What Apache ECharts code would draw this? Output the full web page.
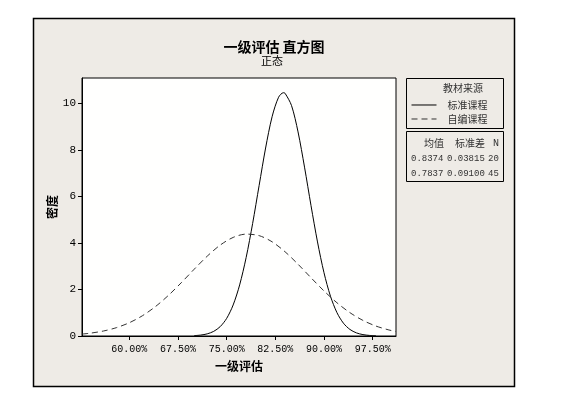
<!DOCTYPE html>
<html><head><meta charset="utf-8">
<script src="https://cdn.jsdelivr.net/npm/echarts@6/dist/echarts.min.js"></script>
<style>html,body{margin:0;padding:0;background:#fff}#c{width:565px;height:396px}</style>
</head><body><div id="c"></div>
<script>
const titleText = '一级评估 直方图';
const subtitleText = '正态';
const xAxisName = '一级评估';
const yAxisName = '密度';
const seriesNames = ['标准课程', '自编课程'];
const legendTitle = '教材来源';
const statHeaders = ['均值', '标准差', 'N'];
const statMeans = ['0.8374', '0.7837'];
const statSds = ['0.03815', '0.09100'];
const statNs = ['20', '45'];
const xTicks = [60, 67.5, 75, 82.5, 90, 97.5];
const yTicks = [0, 2, 4, 6, 8, 10];

const solidX = [70,71,72,73,74,75,76,77,78,79,80,81,82,83,83.74,84,85,86,87,88,89,90,91,92,93,94,95,96,97,98];
const solidY = [0.016,0.040,0.092,0.199,0.402,0.758,1.335,2.196,3.371,4.832,6.468,8.080,9.424,10.262,10.457,10.433,9.902,8.773,7.258,5.606,4.043,2.721,1.710,1.003,0.550,0.281,0.134,0.060,0.025,0.010];
const dashX = [52.7,54,56,58,60,62,64,66,68,70,72,74,76,78,80,82,84,86,88,90,92,94,96,98,100,101.1];
const dashY = [0.082,0.122,0.214,0.358,0.571,0.869,1.260,1.740,2.290,2.872,3.431,3.907,4.238,4.380,4.314,4.049,3.620,3.085,2.504,1.937,1.428,1.003,0.671,0.428,0.260,0.194];

const CJK = "'Noto Sans CJK SC', sans-serif";
const MONO = "'Liberation Mono', monospace";
const BG = '#EEEBE6';

const chart = echarts.init(document.getElementById('c'), null, {renderer: 'canvas'});

const pairs = (xs, ys) => xs.map((x, i) => [x, ys[i]]);

const statTexts = [];
const colsX = [434, 470, 496];
statHeaders.forEach((h, i) => statTexts.push({
  type: 'text', x: colsX[i], y: 143,
  style: {text: h, fontSize: 10, fontFamily: i === 2 ? MONO : CJK, fill: '#333', align: 'center', verticalAlign: 'middle'}
}));
statMeans.forEach((m, r) => {
  const y = 158.5 + r * 15;
  statTexts.push({type: 'text', x: 411, y, style: {text: m, fontSize: 9, fontFamily: MONO, fill: '#333', align: 'left', verticalAlign: 'middle'}});
  statTexts.push({type: 'text', x: 447, y, style: {text: statSds[r], fontSize: 9, fontFamily: MONO, fill: '#333', align: 'left', verticalAlign: 'middle'}});
  statTexts.push({type: 'text', x: 488, y, style: {text: statNs[r], fontSize: 9, fontFamily: MONO, fill: '#333', align: 'left', verticalAlign: 'middle'}});
});

chart.setOption({
  animation: false,
  backgroundColor: 'transparent',
  grid: {left: 82, top: 78, width: 314, height: 258, show: true, backgroundColor: '#FFFFFE', borderColor: '#000', borderWidth: 1, containLabel: false},
  legend: {
    data: seriesNames, orient: 'vertical', left: 406, top: 95, itemWidth: 25, itemHeight: 10, itemGap: 4,
    selectedMode: false,
    itemStyle: {opacity: 0},
    lineStyle: {width: 1},
    textStyle: {fontSize: 10, fontFamily: CJK, color: '#333', padding: [0, 0, 0, 6]}
  },
  xAxis: {
    type: 'value', min: 52.7, max: 101.1,
    name: xAxisName, nameLocation: 'middle', nameGap: 24, nameMoveOverlap: false,
    nameTextStyle: {fontSize: 12, fontWeight: 'bold', fontFamily: CJK, color: '#000'},
    axisLine: {show: true, lineStyle: {color: '#000', width: 1}},
    axisTick: {show: true, length: 4, customValues: xTicks, lineStyle: {color: '#000'}},
    axisLabel: {customValues: xTicks, margin: 8, fontSize: 10, fontFamily: MONO, color: '#000', formatter: v => v.toFixed(2) + '%'},
    splitLine: {show: false}
  },
  yAxis: {
    type: 'value', min: 0, max: 11.09,
    name: yAxisName, nameLocation: 'middle', nameGap: 24, nameRotate: 90, nameMoveOverlap: false,
    nameTextStyle: {fontSize: 12, fontWeight: 'bold', fontFamily: CJK, color: '#000'},
    axisLine: {show: true, lineStyle: {color: '#000', width: 1}},
    axisTick: {show: true, length: 4, customValues: yTicks, lineStyle: {color: '#000'}},
    axisLabel: {customValues: yTicks, margin: 6, fontSize: 11, fontFamily: MONO, color: '#000'},
    splitLine: {show: false}
  },
  series: [
    {name: seriesNames[0], type: 'line', data: pairs(solidX, solidY), symbol: 'none', smooth: 0.3,
     lineStyle: {color: '#000', width: 1, type: 'solid'}, itemStyle: {color: '#000'}},
    {name: seriesNames[1], type: 'line', data: pairs(dashX, dashY), symbol: 'none', smooth: 0.3,
     lineStyle: {color: '#333', width: 1, type: [6, 4]}, itemStyle: {color: '#333'}}
  ],
  graphic: [
    {type: 'rect', z: -10, shape: {x: 33.5, y: 18.5, width: 481, height: 368}, style: {fill: BG, stroke: '#000', lineWidth: 1.5}},
    {type: 'text', x: 274, y: 47, style: {text: titleText, fontSize: 14, fontWeight: 'bold', fontFamily: CJK, fill: '#000', align: 'center', verticalAlign: 'middle'}},
    {type: 'text', x: 272, y: 61, style: {text: subtitleText, fontSize: 11, fontFamily: CJK, fill: '#000', align: 'center', verticalAlign: 'middle'}},
    {type: 'rect', z: -5, shape: {x: 406.5, y: 78.5, width: 97, height: 50}, style: {fill: BG, stroke: '#000', lineWidth: 1}},
    {type: 'rect', z: -5, shape: {x: 406.5, y: 131.5, width: 97, height: 50}, style: {fill: BG, stroke: '#000', lineWidth: 1}},
    {type: 'text', x: 463, y: 88.5, style: {text: legendTitle, fontSize: 10, fontFamily: CJK, fill: '#333', align: 'center', verticalAlign: 'middle'}}
  ].concat(statTexts)
});
</script></body></html>
